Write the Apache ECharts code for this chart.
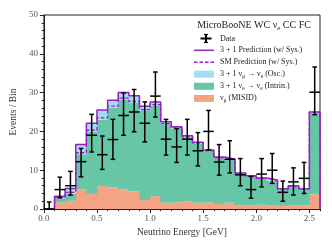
<!DOCTYPE html>
<html><head><meta charset="utf-8">
<script src="https://cdn.jsdelivr.net/npm/echarts@6/dist/echarts.min.js"></script>
<style>html,body{margin:0;padding:0;background:#fff}#c{width:332px;height:249px}</style>
</head><body><div id="c"></div>
<script>
// ---- data (bins of 0.1 GeV, last bin is overflow) ----
const binEdges = [0.0,0.1,0.2,0.3,0.4,0.5,0.6,0.7,0.8,0.9,1.0,1.1,1.2,1.3,1.4,1.5,1.6,1.7,1.8,1.9,2.0,2.1,2.2,2.3,2.4,2.5,2.6];
const misid     = [0,1.7,2.1,5.1,3.9,5.9,5.6,5.0,4.5,2.3,3.3,1.6,1.7,2.0,1.6,1.7,1.3,1.6,1.0,1.0,1.1,1.0,0.8,1.0,0.9,3.8];
const intrinsic = [0,1.1,1.9,9.0,16.0,17.1,20.5,23.2,22.8,23.0,23.3,20.2,19.0,16.5,15.3,13.2,11.8,11.0,8.1,7.4,6.7,6.3,4.2,4.8,4.1,21.1];
const oscill    = [0,0.5,1.3,2.5,2.2,2.5,1.9,1.8,1.9,1.2,1.0,0.7,0.5,0.4,0.3,0.3,0.3,0.3,0.2,0.2,0.2,0.2,0.2,0.2,0.2,0.1];
const smPred    = [0,3.0,4.3,14.5,20.3,23.5,26.5,28.6,27.7,25.6,26.9,22.0,20.9,18.6,17.0,15.0,13.2,12.7,9.2,8.5,7.9,7.4,5.1,5.9,5.1,25.0];
const dataVals  = [0,5.0,6.0,12.2,19.0,14.0,17.9,24.1,25.0,22.1,29.1,18.0,16.0,18.0,15.0,20.0,12.1,12.8,8.8,5.0,9.0,10.0,4.3,7.0,7.9,30.1];
const dataLow   = [0,2.9,3.6,8.3,14.7,10.2,12.8,19.0,19.9,17.3,23.7,13.9,12.0,13.9,11.1,15.2,8.7,9.3,6.0,2.8,5.7,6.6,2.0,3.6,4.0,24.3];
const dataHigh  = [1.8,8.2,9.7,15.6,24.4,18.8,23.1,29.9,30.8,27.6,35.3,23.1,20.7,23.1,19.7,25.4,16.6,17.6,13.0,8.4,13.0,14.3,7.2,10.6,12.0,36.6];
const xTickLabels = ['0.0','0.5','1.0','1.5','2.0','2.5'];
const yTickLabels = ['0','10','20','30','40','50'];
const legendTitle = '{n|MicroBooNE WC \u03bd}{s|e}{n| CC FC}';
const legendLabels = ['Data','3 + 1 Prediction (w/ Sys.)','SM Prediction (w/ Sys.)',
  '{n|3 + 1 \u03bd}{s|\u03bc}{n| \u2192 \u03bd}{s|e}{n| (Osc.)}',
  '{n|3 + 1 \u03bd}{s|e}{n| \u2192 \u03bd}{s|e}{n| (Intrin.)}',
  '{n|\u03bd}{s|\u03bc}{n| (MISID)}'];

// ---- styling ----
const C_MIS = '#f4a384', C_INT = '#66c6a6', C_OSC = '#a3dcf4', C_PUR = '#9a1fc2';
const FONT = '"Liberation Serif", "DejaVu Serif", serif';
const nb = binEdges.length - 1;

// cumulative stacks
const lvl0 = [], lvl1 = [], lvl2 = [], lvl3 = [];
for (let i = 0; i < nb; i++) {
  lvl0.push(0);
  lvl1.push(misid[i]);
  lvl2.push(misid[i] + intrinsic[i]);
  lvl3.push(misid[i] + intrinsic[i] + oscill[i]);
}
function bandData(lo, hi) {
  const d = [];
  for (let i = 0; i < nb; i++) if (hi[i] > lo[i]) d.push([binEdges[i], binEdges[i+1], lo[i], hi[i]]);
  return d;
}
function rectRender(color) {
  return function (params, api) {
    const p0 = api.coord([api.value(0), api.value(3)]);
    const p1 = api.coord([api.value(1), api.value(2)]);
    return {type: 'rect', shape: {x: p0[0] - 0.3, y: p0[1], width: p1[0] - p0[0] + 0.6, height: p1[1] - p0[1]},
      style: {fill: color}};
  };
}
function stepData(vals) {
  const pts = [];
  let start = 0;
  while (start < nb && vals[start] === 0) start++;
  pts.push([binEdges[start], 0]);
  for (let i = start; i < nb; i++) pts.push([binEdges[i], vals[i]]);
  pts.push([binEdges[nb], vals[nb-1]]);
  pts.push([binEdges[nb], 0]);
  return pts;
}
const errData = [];
for (let i = 0; i < nb; i++) errData.push([(binEdges[i] + binEdges[i+1]) / 2, dataVals[i], dataLow[i], dataHigh[i], binEdges[i], binEdges[i+1]]);

function errRender(params, api) {
  const v = api.value(1);
  const pl = api.coord([api.value(4), v]), pr = api.coord([api.value(5), v]);
  const pLo = api.coord([api.value(0), api.value(2)]), pHi = api.coord([api.value(0), api.value(3)]);
  const cap = 2.3, st = {stroke: '#000', lineWidth: 1.5};
  return {type: 'group', children: [
    {type: 'line', shape: {x1: pl[0], y1: pl[1], x2: pr[0], y2: pr[1]}, style: st},
    {type: 'line', shape: {x1: pLo[0], y1: pLo[1], x2: pHi[0], y2: pHi[1]}, style: st},
    {type: 'line', shape: {x1: pLo[0]-cap, y1: pLo[1], x2: pLo[0]+cap, y2: pLo[1]}, style: st},
    {type: 'line', shape: {x1: pHi[0]-cap, y1: pHi[1], x2: pHi[0]+cap, y2: pHi[1]}, style: st}
  ]};
}

// ---- legend (graphic) ----
const LX0 = 194, LX1 = 214, LT = 220;
const rowsY = [38.5, 50.3, 62.2, 74.2, 86.3, 98.4];
const richN = {fontFamily: FONT, fontSize: 8, fill: '#222', lineHeight: 11};
const richS = {fontFamily: FONT, fontSize: 5.5, fill: '#222', lineHeight: 11, verticalAlign: 'bottom'};
const graphics = [
  {type: 'text', x: 254, y: 25, style: {text: legendTitle, align: 'center', verticalAlign: 'middle',
    rich: {n: {fontFamily: FONT, fontSize: 10, fill: '#222', lineHeight: 13}, s: {fontFamily: FONT, fontSize: 7, fill: '#222', lineHeight: 13, verticalAlign: 'bottom'}}}},
  // data cross
  {type: 'line', shape: {x1: 200.5, y1: rowsY[0], x2: 211.5, y2: rowsY[0]}, style: {stroke: '#000', lineWidth: 2}},
  {type: 'line', shape: {x1: 206, y1: rowsY[0]-4, x2: 206, y2: rowsY[0]+4}, style: {stroke: '#000', lineWidth: 2}},
  {type: 'line', shape: {x1: 204, y1: rowsY[0]-4, x2: 208, y2: rowsY[0]-4}, style: {stroke: '#000', lineWidth: 1.2}},
  {type: 'line', shape: {x1: 204, y1: rowsY[0]+4, x2: 208, y2: rowsY[0]+4}, style: {stroke: '#000', lineWidth: 1.2}},
  {type: 'line', shape: {x1: LX0, y1: rowsY[1], x2: LX1, y2: rowsY[1]}, style: {stroke: C_PUR, lineWidth: 1.5}},
  {type: 'line', shape: {x1: LX0, y1: rowsY[2], x2: LX1, y2: rowsY[2]}, style: {stroke: C_PUR, lineWidth: 1.5, lineDash: [3.5, 2]}},
  {type: 'rect', shape: {x: LX0, y: rowsY[3]-3.5, width: LX1-LX0, height: 7}, style: {fill: C_OSC}},
  {type: 'rect', shape: {x: LX0, y: rowsY[4]-3.5, width: LX1-LX0, height: 7}, style: {fill: C_INT}},
  {type: 'rect', shape: {x: LX0, y: rowsY[5]-3.5, width: LX1-LX0, height: 7}, style: {fill: C_MIS}}
];
legendLabels.forEach((t, k) => {
  const txt = t.indexOf('{n|') === 0 ? t : '{n|' + t + '}';
  graphics.push({type: 'text', x: LT, y: rowsY[k], style: {text: txt, align: 'left', verticalAlign: 'middle', rich: {n: richN, s: richS}}});
});

const axisCol = '#222';
const option = {
  animation: false,
  backgroundColor: '#fff',
  grid: {left: 39, right: 12, top: 15, bottom: 40, show: true, borderColor: axisCol, borderWidth: 1, backgroundColor: 'transparent'},
  xAxis: [
    {type: 'value', min: 0, max: 2.6, interval: 0.5, position: 'bottom',
      name: 'Neutrino Energy [GeV]', nameLocation: 'middle', nameGap: 18,
      nameTextStyle: {fontFamily: FONT, fontSize: 9.5, color: '#333'},
      axisLine: {onZero: false, lineStyle: {color: axisCol, width: 1}},
      axisTick: {length: 4, lineStyle: {color: axisCol}},
      axisLabel: {margin: 5, fontFamily: FONT, fontSize: 9, color: '#555', showMaxLabel: false,
        formatter: v => { const k = Math.round(v / 0.5); return (Math.abs(v - k * 0.5) < 1e-6 && k < xTickLabels.length) ? xTickLabels[k] : ''; }},
      splitLine: {show: false}},
    {type: 'value', min: 0, max: 2.6, interval: 0.1, position: 'bottom',
      axisLine: {show: false, onZero: false}, axisTick: {length: 2.2, lineStyle: {color: axisCol}},
      axisLabel: {show: false}, splitLine: {show: false}}
  ],
  yAxis: [
    {type: 'value', min: 0, max: 50, interval: 10, position: 'left',
      name: 'Events / Bin', nameLocation: 'middle', nameGap: 20,
      nameTextStyle: {fontFamily: FONT, fontSize: 9.5, color: '#333'},
      axisLine: {onZero: false, lineStyle: {color: axisCol, width: 1}},
      axisTick: {length: 4, lineStyle: {color: axisCol}},
      axisLabel: {margin: 6, fontFamily: FONT, fontSize: 9, color: '#555',
        formatter: v => { const k = Math.round(v / 10); return yTickLabels[k] || ''; }},
      splitLine: {show: false}},
    {type: 'value', min: 0, max: 50, interval: 2, position: 'left',
      axisLine: {show: false, onZero: false}, axisTick: {length: 2.2, lineStyle: {color: axisCol}},
      axisLabel: {show: false}, splitLine: {show: false}}
  ],
  series: [
    {type: 'custom', name: 'MISID', renderItem: rectRender(C_MIS), data: bandData(lvl0, lvl1), z: 1, encode: {x: [0, 1], y: [2, 3]}},
    {type: 'custom', name: 'Intrinsic', renderItem: rectRender(C_INT), data: bandData(lvl1, lvl2), z: 1, encode: {x: [0, 1], y: [2, 3]}},
    {type: 'custom', name: 'Osc', renderItem: rectRender(C_OSC), data: bandData(lvl2, lvl3), z: 1, encode: {x: [0, 1], y: [2, 3]}},
    {type: 'line', name: 'SM', step: 'end', data: stepData(smPred), symbol: 'none', z: 3,
      lineStyle: {color: C_PUR, width: 1.3, type: [3.5, 2]}},
    {type: 'line', name: '3+1', step: 'end', data: stepData(lvl3), symbol: 'none', z: 4,
      lineStyle: {color: C_PUR, width: 1.5}},
    {type: 'custom', name: 'Data', renderItem: errRender, data: errData, z: 5, encode: {x: [0, 4, 5], y: [1, 2, 3]}}
  ],
  graphic: graphics
};
const chart = echarts.init(document.getElementById('c'), null, {renderer: 'canvas'});
chart.setOption(option);
</script></body></html>
